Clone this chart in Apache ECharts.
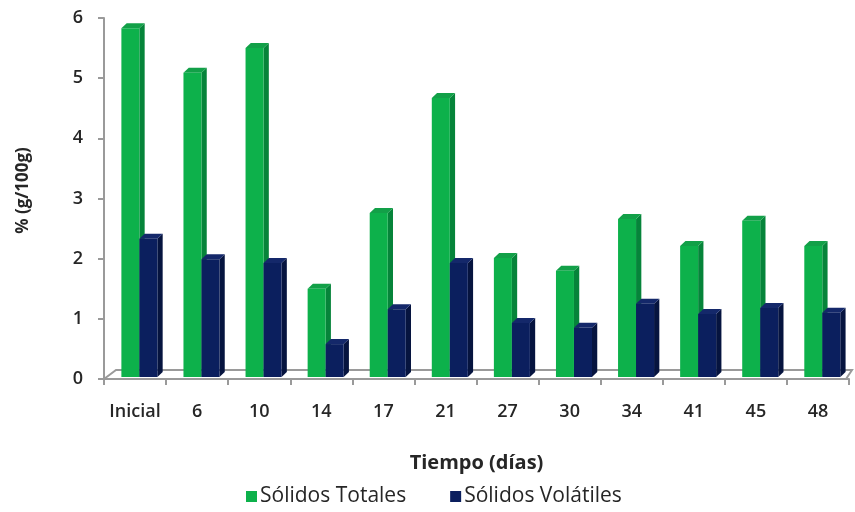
<!DOCTYPE html>
<html>
<head>
<meta charset="utf-8">
<script src="https://cdn.jsdelivr.net/npm/echarts@6/dist/echarts.min.js"></script>
<style>
  html, body { margin: 0; padding: 0; background: #ffffff; }
  #chart { width: 855px; height: 512px; }
</style>
</head>
<body>
<div id="chart"></div>
<script>
// Días de muestreo
const categories = ['Inicial', '6', '10', '14', '17', '21', '27', '30', '34', '41', '45', '48'];
// Sólidos totales, % (g/100g)
const solidosTotales = [5.83, 5.09, 5.50, 1.50, 2.76, 4.67, 2.01, 1.80, 2.66, 2.21, 2.63, 2.21];
// Sólidos volátiles, % (g/100g)
const solidosVolatiles = [2.33, 1.99, 1.93, 0.58, 1.16, 1.93, 0.93, 0.85, 1.25, 1.08, 1.18, 1.10];
const yTicks = [0, 1, 2, 3, 4, 5, 6];

const FONT = '"Open Sans", Lato, sans-serif';
const TEXT = '#262626';

// Colores de cara frontal, lateral y superior de cada columna
const shades = [
  { front: '#0db14b', side: '#06843a', top: '#12a048' },
  { front: '#0b1f5e', side: '#06143f', top: '#14286a' }
];

// Columna pseudo-3D: cara frontal + lateral + superior
function bar3d(seriesIdx) {
  return function (params, api) {
    const xi = api.value(0);
    const v = api.value(1);
    const bw = api.size([1, 0])[0];
    const top = api.coord([xi, v]);
    const base = api.coord([xi, 0]);
    const w = bw * 0.29;
    const dx = bw * 0.085;
    const dy = 5;
    const left = top[0] - bw * 0.22 + seriesIdx * w;
    const yb = base[1] - 2;
    const yt = top[1];
    const c = shades[seriesIdx];
    return {
      type: 'group',
      children: [
        { type: 'polygon', shape: { points: [[left + w, yt], [left + w + dx, yt - dy], [left + w + dx, yb - dy], [left + w, yb]] }, style: { fill: c.side } },
        { type: 'polygon', shape: { points: [[left, yt], [left + dx, yt - dy], [left + w + dx, yt - dy], [left + w, yt]] }, style: { fill: c.top } },
        { type: 'rect', shape: { x: left, y: yt, width: w, height: yb - yt }, style: { fill: c.front } }
      ]
    };
  };
}

// Piso del gráfico: borde posterior y aristas laterales
function floor(params, api) {
  const bw = api.size([1, 0])[0];
  const first = api.coord([0, 0]);
  const last = api.coord([categories.length - 1, 0]);
  const x0 = first[0] - bw / 2;
  const x1 = last[0] + bw / 2;
  const y = first[1];
  const off = 12, h = 9;
  const st = { stroke: '#9a9a9a', lineWidth: 2, fill: null };
  return {
    type: 'group',
    children: [
      { type: 'polyline', shape: { points: [[x0, y], [x0 + off, y - h], [x1 + 3, y - h], [x1 - 3, y]] }, style: st }
    ]
  };
}

const chart = echarts.init(document.getElementById('chart'), null, { renderer: 'canvas' });
chart.setOption({
  animation: false,
  backgroundColor: '#ffffff',
  grid: { left: 104, right: 6, top: 18, bottom: 133, containLabel: false },
  legend: {
    bottom: 0,
    left: 241,
    itemWidth: 11,
    itemHeight: 11,
    itemGap: 44,
    icon: 'rect',
    textStyle: { fontFamily: FONT, fontSize: 21, color: TEXT, padding: [0, 0, 0, -2] },
    data: ['Sólidos Totales', 'Sólidos Volátiles']
  },
  xAxis: {
    type: 'category',
    data: categories,
    name: 'Tiempo (días)',
    nameLocation: 'middle',
    nameGap: 74,
    nameTextStyle: { fontFamily: FONT, fontSize: 20, fontWeight: 'bold', color: TEXT },
    axisLine: { show: true, lineStyle: { color: '#9a9a9a', width: 2 } },
    axisTick: { show: true, length: 6, lineStyle: { color: '#9a9a9a', width: 2 } },
    axisLabel: { interval: 0, fontFamily: FONT, fontSize: 18, fontWeight: 600, color: TEXT, margin: 24 },
    splitLine: { show: false }
  },
  yAxis: {
    type: 'value',
    min: yTicks[0],
    max: yTicks[yTicks.length - 1],
    interval: 1,
    name: '% (g/100g)',
    nameLocation: 'middle',
    nameGap: 72,
    nameRotate: 90,
    nameTextStyle: { fontFamily: FONT, fontSize: 17, fontWeight: 'bold', color: TEXT, padding: [0, 0, 0, 16] },
    axisLine: { show: true, lineStyle: { color: '#9a9a9a', width: 2 } },
    axisTick: { show: true, length: 6, lineStyle: { color: '#9a9a9a', width: 2 } },
    axisLabel: { fontFamily: FONT, fontSize: 18, fontWeight: 600, color: TEXT, margin: 21 },
    splitLine: { show: false }
  },
  series: [
    {
      type: 'custom',
      name: 'floor',
      renderItem: floor,
      data: [[0, 0]],
      silent: true,
      z: 1
    },
    {
      type: 'custom',
      name: 'Sólidos Totales',
      renderItem: bar3d(0),
      itemStyle: { color: shades[0].front },
      encode: { x: 0, y: 1 },
      data: solidosTotales.map((v, i) => [i, v]),
      z: 2
    },
    {
      type: 'custom',
      name: 'Sólidos Volátiles',
      renderItem: bar3d(1),
      itemStyle: { color: shades[1].front },
      encode: { x: 0, y: 1 },
      data: solidosVolatiles.map((v, i) => [i, v]),
      z: 3
    }
  ]
});
</script>
</body>
</html>
